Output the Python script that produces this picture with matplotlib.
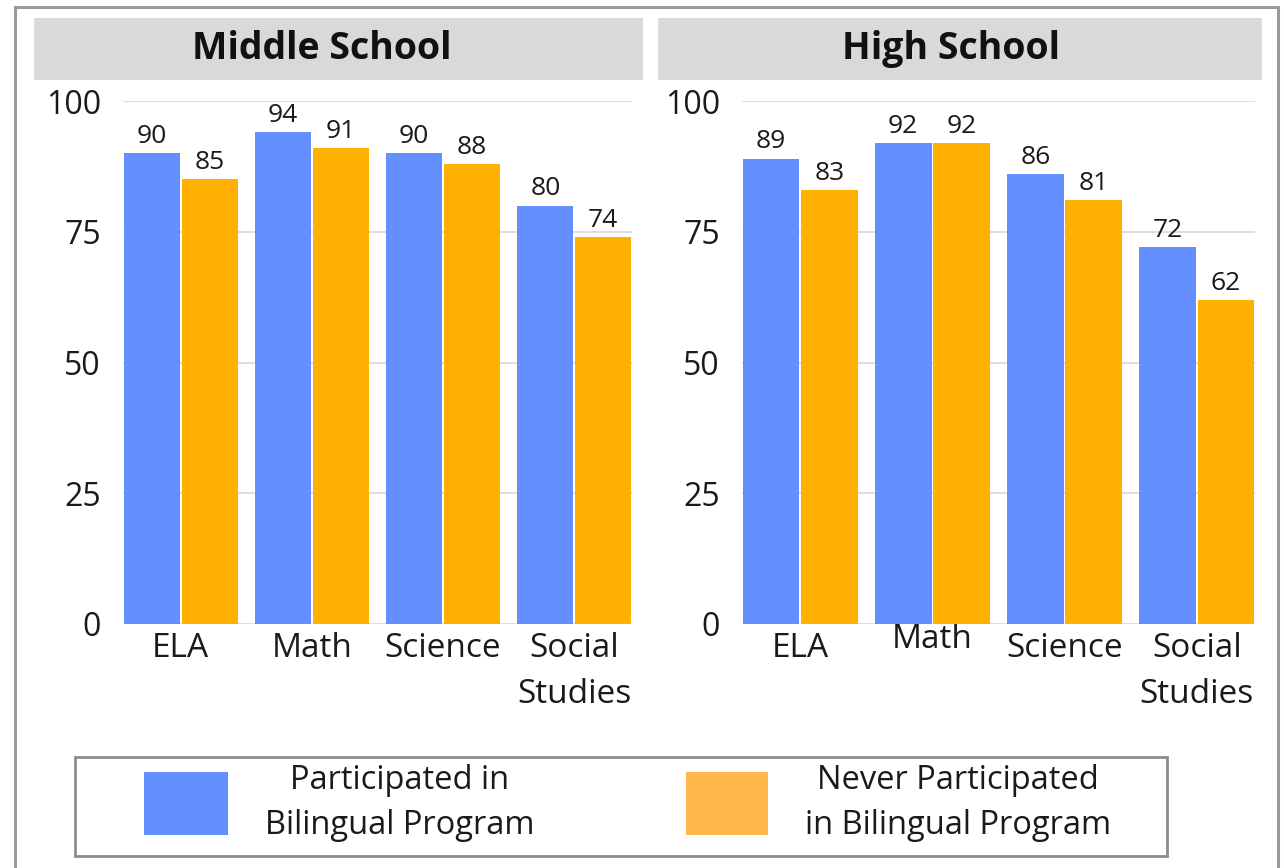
import matplotlib
matplotlib.use("Agg")
import matplotlib.pyplot as plt
from matplotlib.patches import Rectangle
from matplotlib.transforms import ScaledTranslation

# ---- data ----
subjects = ["ELA", "Math", "Science", "Social\nStudies"]
panels = ["Middle School", "High School"]
participated = {
    "Middle School": [90, 94, 90, 80],
    "High School": [89, 92, 86, 72],
}
never_participated = {
    "Middle School": [85, 91, 88, 74],
    "High School": [83, 92, 81, 62],
}
series_labels = ["Participated in\nBilingual Program",
                 "Never Participated\nin Bilingual Program"]
yticks = [0, 25, 50, 75, 100]

BLUE = "#648FFF"
ORANGE = "#FFB000"
ORANGE_LEGEND = "#FFB84D"
TEXT = "#1a1a1a"
GRID = "#d4d4d4"
BAND = "#d9d9d9"
FRAME = "#9a9a9a"

plt.rcParams["font.family"] = ["Open Sans", "DejaVu Sans"]

W, H = 1284, 868
fig = plt.figure(figsize=(W / 100, H / 100), dpi=100)
fig.patch.set_facecolor("white")


def fx(px):
    return px / W


def fy(py):
    return 1 - py / H


# outer frame
fig.patches.append(Rectangle((fx(15), fy(880)), fx(1278) - fx(15), fy(7) - fy(880),
                             transform=fig.transFigure, fill=False,
                             edgecolor=FRAME, linewidth=2.2, zorder=0))

axes_px = {"Middle School": (123, 632), "High School": (742, 1255)}
band_px = {"Middle School": (34, 643), "High School": (658, 1262)}
title_x = {"Middle School": 322, "High School": 951}
top_px, base_px = 101, 624

bar_w = 0.43
gap = 0.012
for name in panels:
    x0, x1 = axes_px[name]
    ax = fig.add_axes([fx(x0), fy(base_px), fx(x1) - fx(x0), fy(top_px) - fy(base_px)])
    xs = list(range(len(subjects)))
    b1 = ax.bar([x - gap / 2 - bar_w for x in xs], participated[name], width=bar_w,
                align="edge", color=BLUE, zorder=3)
    b2 = ax.bar([x + gap / 2 for x in xs], never_participated[name], width=bar_w,
                align="edge", color=ORANGE, zorder=3)
    for bars, vals in ((b1, participated[name]), (b2, never_participated[name])):
        for r, v in zip(bars, vals):
            ax.annotate(f"{v}", (r.get_x() + r.get_width() / 2, v),
                        xytext=(0, 3), textcoords="offset points",
                        ha="center", va="bottom", fontsize=19, color=TEXT,
                        clip_on=False)

    ax.set_xlim(-0.44, 3.44)
    ax.set_ylim(0, 100)
    ax.set_yticks(yticks)
    ax.yaxis.grid(True, color=GRID, linewidth=1.1, zorder=0)
    ax.set_axisbelow(True)
    for s in ax.spines.values():
        s.set_visible(False)
    ax.tick_params(axis="y", length=0, pad=16, labelsize=23, labelcolor=TEXT)
    ax.tick_params(axis="x", length=0, pad=6, labelsize=24, labelcolor=TEXT)
    ax.set_xticks(xs)
    ax.set_xticklabels(subjects, linespacing=1.5)
    if name == "High School":
        lbl = ax.get_xticklabels()[1]
        lbl.set_transform(lbl.get_transform() + ScaledTranslation(0, 9 / 100, fig.dpi_scale_trans))

    # title band
    bx0, bx1 = band_px[name]
    fig.patches.append(Rectangle((fx(bx0), fy(80)), fx(bx1) - fx(bx0), fy(18) - fy(80),
                                 transform=fig.transFigure, facecolor=BAND,
                                 edgecolor="none", zorder=0))
    fig.text(fx(title_x[name]), fy(49), name, ha="center", va="center",
             fontsize=27, fontweight="bold", color="#111111")

# legend box with the two series swatches
fig.patches.append(Rectangle((fx(75), fy(856)), fx(1167) - fx(75), fy(757) - fy(856),
                             transform=fig.transFigure, fill=False,
                             edgecolor="#8c8c8c", linewidth=2.0, zorder=1))
legend_items = [
    (BLUE, (144, 228), 400, series_labels[0]),
    (ORANGE_LEGEND, (686, 768), 958, series_labels[1]),
]
for color, (p0, p1), tx, label in legend_items:
    fig.patches.append(Rectangle((fx(p0), fy(835)), fx(p1) - fx(p0), fy(772) - fy(835),
                                 transform=fig.transFigure, facecolor=color,
                                 edgecolor="none", zorder=1))
    fig.text(fx(tx), fy(803), label, ha="center", va="center",
             multialignment="center", fontsize=23.5, linespacing=1.5, color=TEXT)

fig.savefig("out.png", dpi=100, facecolor="white")
